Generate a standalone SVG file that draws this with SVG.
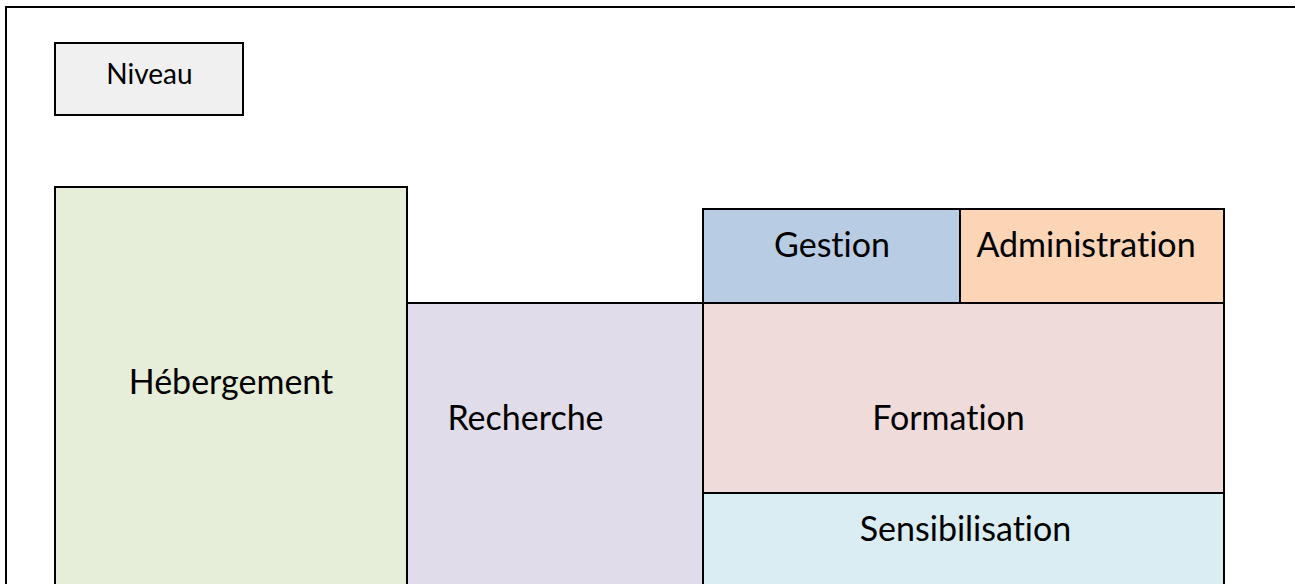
<svg xmlns="http://www.w3.org/2000/svg" width="1295" height="584" viewBox="0 0 1295 584">
  <style>
    .box { stroke: #000; stroke-width: 2; }
    .lbl { font-family: Lato, "Open Sans", "Liberation Sans", sans-serif; fill: #000; text-anchor: middle; font-variant-ligatures: none; font-feature-settings: "liga" 0, "dlig" 0; }
    .big { font-size: 34px; }
    .small { font-size: 28px; }
  </style>
  <rect width="1295" height="584" fill="#fff"/>
  <!-- outer frame, running past the right and bottom edges -->
  <rect x="6" y="7" width="1300" height="600" fill="none" stroke="#000" stroke-width="2"/>

  <g id="niveau">
    <rect class="box" x="55" y="43" width="188" height="72" fill="#f0f0f0"/>
    <text class="lbl small" x="149.5" y="84">Niveau</text>
  </g>
  <g id="hebergement">
    <rect class="box" x="55" y="187" width="352" height="420" fill="#e6eed9"/>
    <text class="lbl big" x="231" y="394">Hébergement</text>
  </g>
  <g id="recherche">
    <rect class="box" x="407" y="303" width="296" height="320" fill="#e0dcea"/>
    <text class="lbl big" x="525.5" y="430">Recherche</text>
  </g>
  <g id="gestion">
    <rect class="box" x="703" y="209" width="257" height="94" fill="#b8cce4"/>
    <text class="lbl big" x="832" y="257">Gestion</text>
  </g>
  <g id="administration">
    <rect class="box" x="960" y="209" width="264" height="94" fill="#fbd5b5"/>
    <text class="lbl big" x="1086" y="257">Administration</text>
  </g>
  <g id="formation">
    <rect class="box" x="703" y="303" width="521" height="190" fill="#f0dbdb"/>
    <text class="lbl big" x="948.5" y="430">Formation</text>
  </g>
  <g id="sensibilisation">
    <rect class="box" x="703" y="493" width="521" height="130" fill="#daedf3"/>
    <text class="lbl big" x="965.5" y="541">Sensibilisation</text>
  </g>
  <g id="connectors"/>
</svg>
